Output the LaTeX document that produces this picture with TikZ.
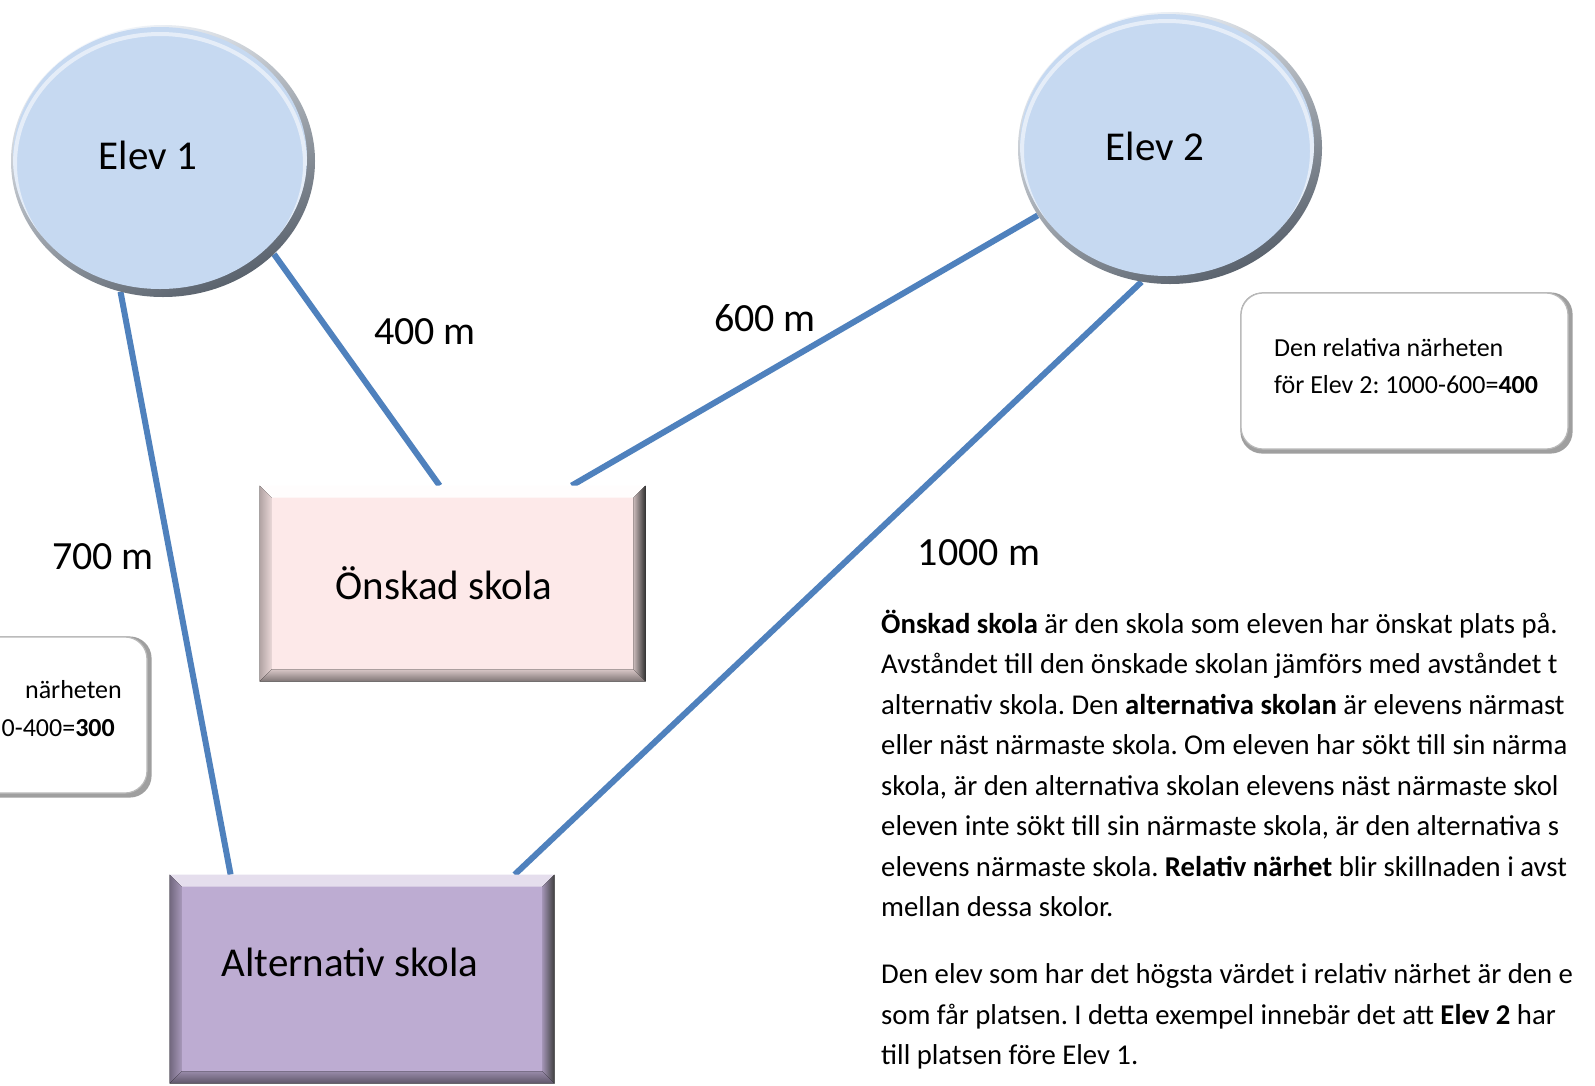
\documentclass[tikz,border=0pt]{standalone}
\usepackage{fontspec}
\setmainfont{Carlito}
\frenchspacing
\usetikzlibrary{shapes.geometric,calc}
\definecolor{linkblue}{HTML}{4F81BD}
\definecolor{elevfill}{HTML}{C6D9F1}
\definecolor{pinkfill}{HTML}{FDE9E9}
\definecolor{lilafill}{HTML}{BDACD2}
\pgfdeclarelayer{background}
\pgfsetlayers{background,main}
\newcommand\bevelrect[6]{%
  \fill[#3] (#1.north west) -- (#1.north east) -- ([shift={(-#2,-#2)}]#1.north east) -- ([shift={(#2,-#2)}]#1.north west) -- cycle;
  \fill[#4] (#1.north west) -- ([shift={(#2,-#2)}]#1.north west) -- ([shift={(#2,#2)}]#1.south west) -- (#1.south west) -- cycle;
  \fill[#5] (#1.north east) -- ([shift={(-#2,-#2)}]#1.north east) -- ([shift={(-#2,#2)}]#1.south east) -- (#1.south east) -- cycle;
  \fill[#6] (#1.south west) -- ([shift={(#2,#2)}]#1.south west) -- ([shift={(-#2,#2)}]#1.south east) -- (#1.south east) -- cycle;
}
\newcommand\elevinner[1]{%
  \fill[elevfill] ([shift={(-3pt,3pt)}]#1.center) ellipse [x radius=147pt, y radius=131pt];
  \begin{scope}
    \clip ([shift={(-3pt,3pt)}]#1.center) ellipse [x radius=147pt, y radius=131pt];
    \draw[white,opacity=0.55,line width=4pt] ([shift={(-3pt,-3pt)}]#1.center) ellipse [x radius=145pt, y radius=130pt];
  \end{scope}
}
\begin{document}
\begin{tikzpicture}[x=1pt,y=-1pt,
  link/.style={draw=linkblue,line width=6pt},
  bigtext/.style={font=\fontsize{41}{49}\selectfont,inner sep=0pt},
  disttext/.style={font=\fontsize{40}{48}\selectfont,inner sep=0pt},
  calltext/.style={font=\fontsize{26}{37}\selectfont,inner sep=0pt},
  paratext/.style={font=\fontsize{28.7}{40.5}\selectfont,inner sep=0pt,anchor=base west},
  elevnode/.style={ellipse,minimum width=304pt,minimum height=272pt,inner sep=0pt,
    top color=white!80!elevfill,bottom color=black!55!elevfill,shading angle=25},
  schoolbox/.style={rectangle,inner sep=0pt,draw=gray!70,line width=0.8pt},
  calloutbox/.style={rectangle,rounded corners=22pt,fill=white,draw=gray!55,line width=1.2pt,inner sep=0pt,
    minimum height=156pt}
]
\useasboundingbox (0,0) rectangle (1595,1085);
\clip (0,0) rectangle (1595,1085);

% student ellipses
\node[elevnode] (e1) at (163,161) {};
\elevinner{e1}
\node[elevnode] (e2) at (1170,148) {};
\elevinner{e2}
\node[bigtext] (t1) at (148,155) {Elev 1};
\node[bigtext] (t2) at (1155,146) {Elev 2};

% schools
\node[schoolbox,fill=pinkfill,minimum width=385pt,minimum height=195pt] (os) at (452.5,583.5) {};
\bevelrect{os}{12pt}{fill=white!90!pinkfill}{left color=black!30!pinkfill,right color=black!8!pinkfill}{left color=black!20!pinkfill,right color=black!80}{top color=black!15!pinkfill,bottom color=black!50!pinkfill}
\node[bigtext] (tos) at (444,583) {Önskad skola};

\node[schoolbox,fill=lilafill,minimum width=384pt,minimum height=208pt] (as) at (362,979) {};
\bevelrect{as}{12pt}{fill=white!60!lilafill}{left color=black!40!lilafill,right color=black!12!lilafill}{left color=black!15!lilafill,right color=black!75}{top color=black!20!lilafill,bottom color=black!50!lilafill}
\node[bigtext] (tas) at (350,962) {Alternativ skola};

% callouts
\node[calloutbox,minimum width=327pt] (c2) at (1404.5,371) {};
\node[calloutbox,minimum width=332pt] (c1) at (-19,715) {};

% background layer: white page, connectors, shadows
\begin{pgfonlayer}{background}
\fill[white] (0,0) rectangle (1595,1085);
\draw[link] (e1.-40) -- ([xshift=180pt]os.north west);
\draw[link] (e1.252) -- ([xshift=61pt]as.north west);
\draw[link] (e2.207) -- ([xshift=312pt]os.north west);
\draw[link] (e2.258) -- ([xshift=345pt]as.north west);
\fill[gray!75,rounded corners=22pt] (c2.north west) rectangle ([shift={(4pt,-4pt)}]c2.south east);
\fill[gray!75,rounded corners=22pt] (c1.north west) rectangle ([shift={(4pt,-4pt)}]c1.south east);
\end{pgfonlayer}

% distance labels
\node[disttext] (d400) at (425,332) {400 m};
\node[disttext] (d600) at (765,318) {600 m};
\node[disttext] (d700) at (103,557) {700 m};
\node[disttext] (d1000) at (979,553) {1000 m};

\node[calltext,anchor=base west] (c2a) at (1274,356) {Den relativa närheten};
\node[calltext,anchor=base west] (c2b) at (1274,393) {för Elev 2: 1000-600=\textbf{400}};
\node[calltext,anchor=base east] (c1a) at (122,698) {närheten};
\node[calltext,anchor=base east] (c1b) at (115,736) {0-400=\textbf{300}};

% explanatory text
\node[paratext] (p1) at (881,633) {\textbf{Önskad skola} är den skola som eleven har önskat plats på.};
\node[paratext] (p2) at (881,673.5) {Avståndet till den önskade skolan jämförs med avståndet t};
\node[paratext] (p3) at (881,714) {alternativ skola. Den \textbf{alternativa skolan} är elevens närmast};
\node[paratext] (p4) at (881,754.5) {eller näst närmaste skola. Om eleven har sökt till sin närma};
\node[paratext] (p5) at (881,795) {skola, är den alternativa skolan elevens näst närmaste skol};
\node[paratext] (p6) at (881,835.5) {eleven inte sökt till sin närmaste skola, är den alternativa s};
\node[paratext] (p7) at (881,876) {elevens närmaste skola. \textbf{Relativ närhet} blir skillnaden i avst};
\node[paratext] (p8) at (881,916.5) {mellan dessa skolor.};
\node[paratext] (p9) at (881,983) {Den elev som har det högsta värdet i relativ närhet är den e};
\node[paratext] (p10) at (881,1024) {som får platsen. I detta exempel innebär det att \textbf{Elev 2} har};
\node[paratext] (p11) at (881,1064) {till platsen före Elev 1.};
\end{tikzpicture}
\end{document}
